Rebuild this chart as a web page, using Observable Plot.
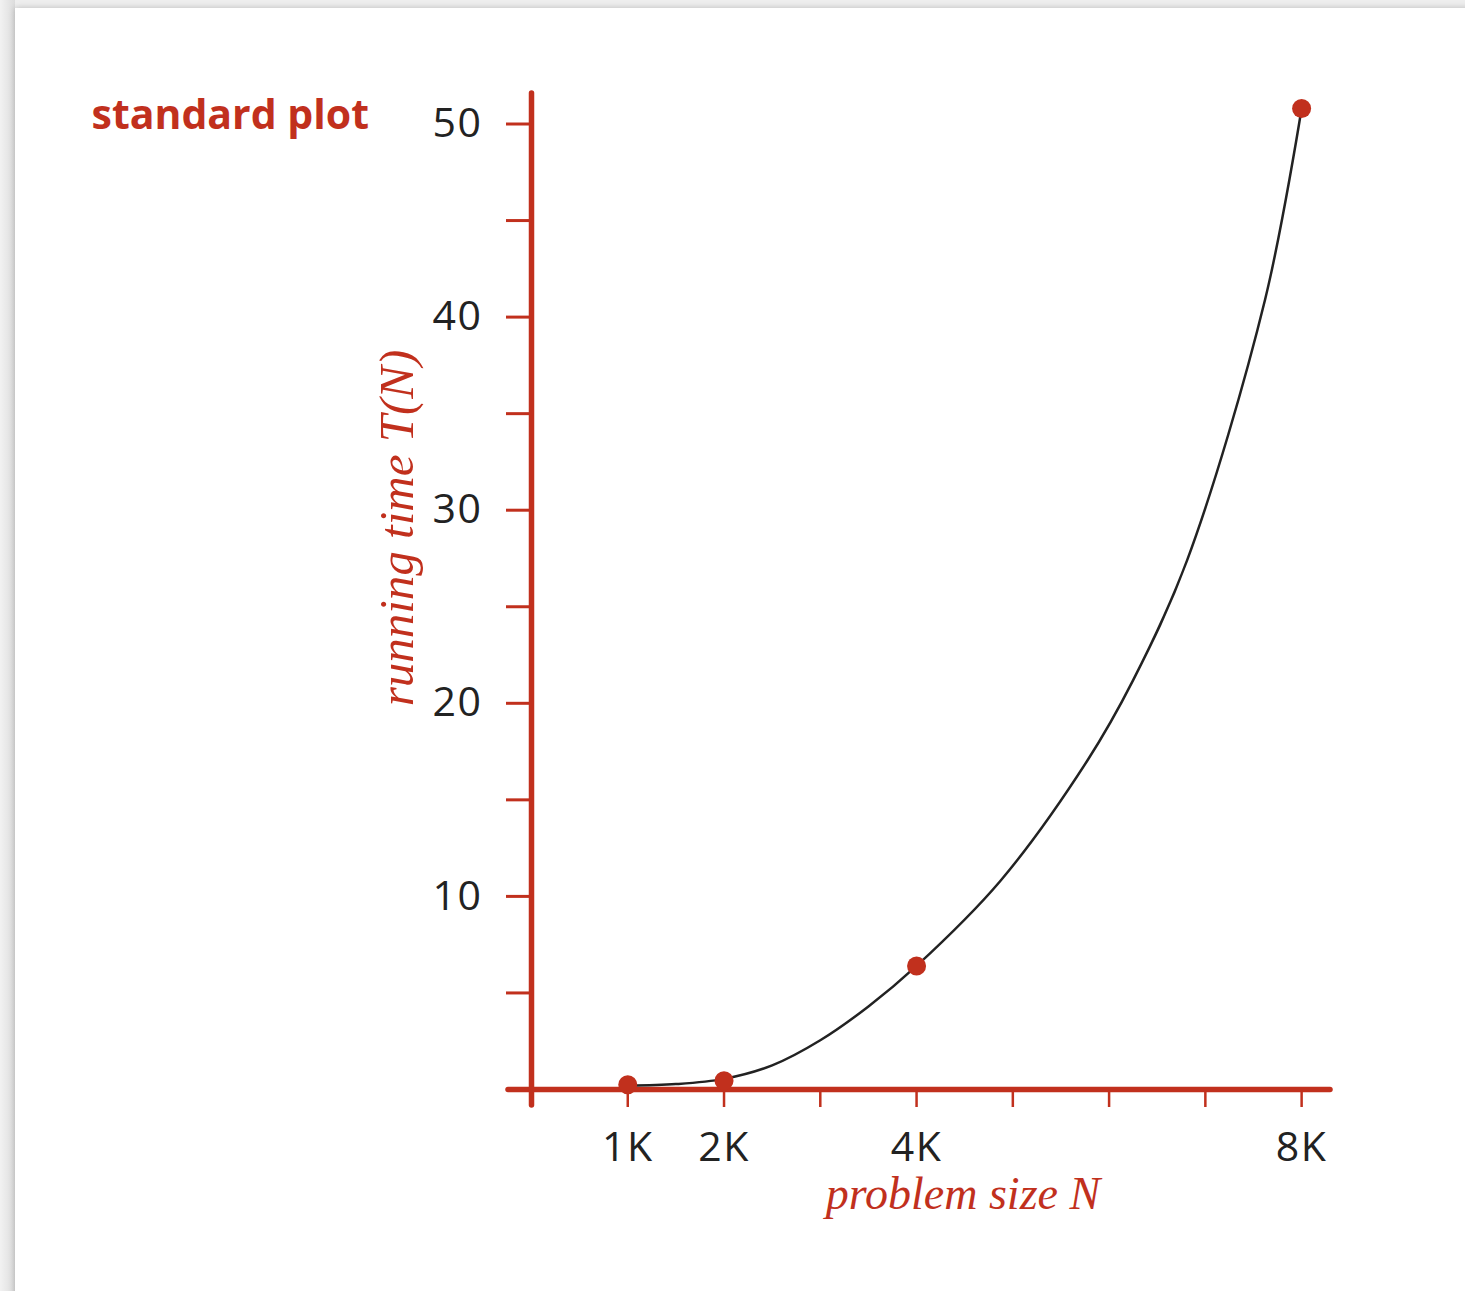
<!DOCTYPE html>
<html>
<head>
<meta charset="utf-8">
<script src="https://cdn.jsdelivr.net/npm/d3@7"></script>
<script src="https://cdn.jsdelivr.net/npm/@observablehq/plot@0.6"></script>
<style>
  html, body { margin: 0; padding: 0; }
  body { width: 1465px; height: 1291px; background: linear-gradient(to right, #f2f2f2, #dcdcdc 15px, #eeeeee 15px); position: relative; overflow: hidden; }
  #panel { position: absolute; left: 15px; top: 8px; width: 1460px; height: 1300px; background: #fff; box-shadow: 0 0 6px rgba(0,0,0,0.22); }
  #chart { position: absolute; left: 0; top: 0; }
  #chart svg { background: transparent; }
  [aria-label="y-axis tick label"] text, [aria-label="x-axis tick label"] text { letter-spacing: 1.5px; }
</style>
</head>
<body>
<div id="panel"></div>
<div id="chart"></div>
<script>
// Data (N in thousands, T in seconds)
const sizes = [1, 2, 4, 8];
const times = [0.25, 0.45, 6.4, 50.8];

// Points along the drawn smooth curve
const curveSizes = [1, 1.5, 2, 2.5, 3, 3.5, 4, 4.87, 5.77, 6.25, 6.81, 7.62, 8];
const curveTimes = [0.2, 0.28, 0.55, 1.25, 2.55, 4.3, 6.4, 10.8, 17.0, 21.2, 27.4, 40.9, 50.8];

// Axis ticks and their labels
const xTicks = [1, 2, 3, 4, 5, 6, 7, 8];
const xTickLabels = ["1K", "2K", "", "4K", "", "", "", "8K"];
const yTicks = [5, 10, 15, 20, 25, 30, 35, 40, 45, 50];
const yTickLabels = ["", "10", "", "20", "", "30", "", "40", "", "50"];

const titleText = "standard plot";
const xLabel = "problem size N";
const yLabel = "running time T(N)";

const red = "#c1301d";
const ink = "#222222";

const points = sizes.map((n, i) => ({n, t: times[i]}));
const curve = curveSizes.map((n, i) => ({n, t: curveTimes[i]}));

const chart = Plot.plot({
  width: 1465,
  height: 1291,
  marginLeft: 531,
  marginRight: 135,
  marginTop: 93,
  marginBottom: 202,
  style: {fontFamily: "'Open Sans', sans-serif", fontSize: "41px", color: ink, background: "transparent", overflow: "visible"},
  x: {domain: [0, 8.3]},
  y: {domain: [0, 51.58]},
  marks: [
    Plot.axisY(yTicks, {
      anchor: "left", tickSize: 25, tickPadding: 24,
      tickFormat: d => yTickLabels[yTicks.indexOf(d)],
      stroke: red, strokeWidth: 3, fill: ink, fontSize: 41, label: null
    }),
    Plot.axisX(xTicks, {
      anchor: "bottom", tickSize: 18, tickPadding: 24,
      tickFormat: d => xTickLabels[xTicks.indexOf(d)],
      stroke: red, strokeWidth: 2.5, fill: ink, fontSize: 41, label: null
    }),
    Plot.ruleX([0], {stroke: red, strokeWidth: 5.5, strokeLinecap: "round", insetBottom: -16}),
    Plot.ruleY([0], {stroke: red, strokeWidth: 5.5, strokeLinecap: "round", insetLeft: -23}),
    Plot.line(curve, {x: "n", y: "t", curve: "catmull-rom", stroke: ink, strokeWidth: 2.5}),
    Plot.dot(points, {x: "n", y: "t", r: 9.5, fill: red, stroke: "none"}),
    Plot.text([titleText], {frameAnchor: "top-left", textAnchor: "start", lineAnchor: "bottom", dx: -440, dy: 35,
      fill: red, fontSize: 41, fontWeight: "bold", fontFamily: "'Open Sans', sans-serif"}),
    Plot.text([xLabel], {frameAnchor: "bottom", textAnchor: "middle", lineAnchor: "bottom", dx: 32, dy: 119,
      fill: red, fontSize: 46, fontStyle: "italic", fontFamily: "'Liberation Serif', serif"}),
    Plot.text([yLabel], {frameAnchor: "left", textAnchor: "middle", lineAnchor: "bottom", rotate: -90, dx: -119, dy: -63.5,
      fill: red, fontSize: 49, fontStyle: "italic", fontFamily: "'Liberation Serif', serif"})
  ]
});
document.getElementById("chart").appendChild(chart);
</script>
</body>
</html>
